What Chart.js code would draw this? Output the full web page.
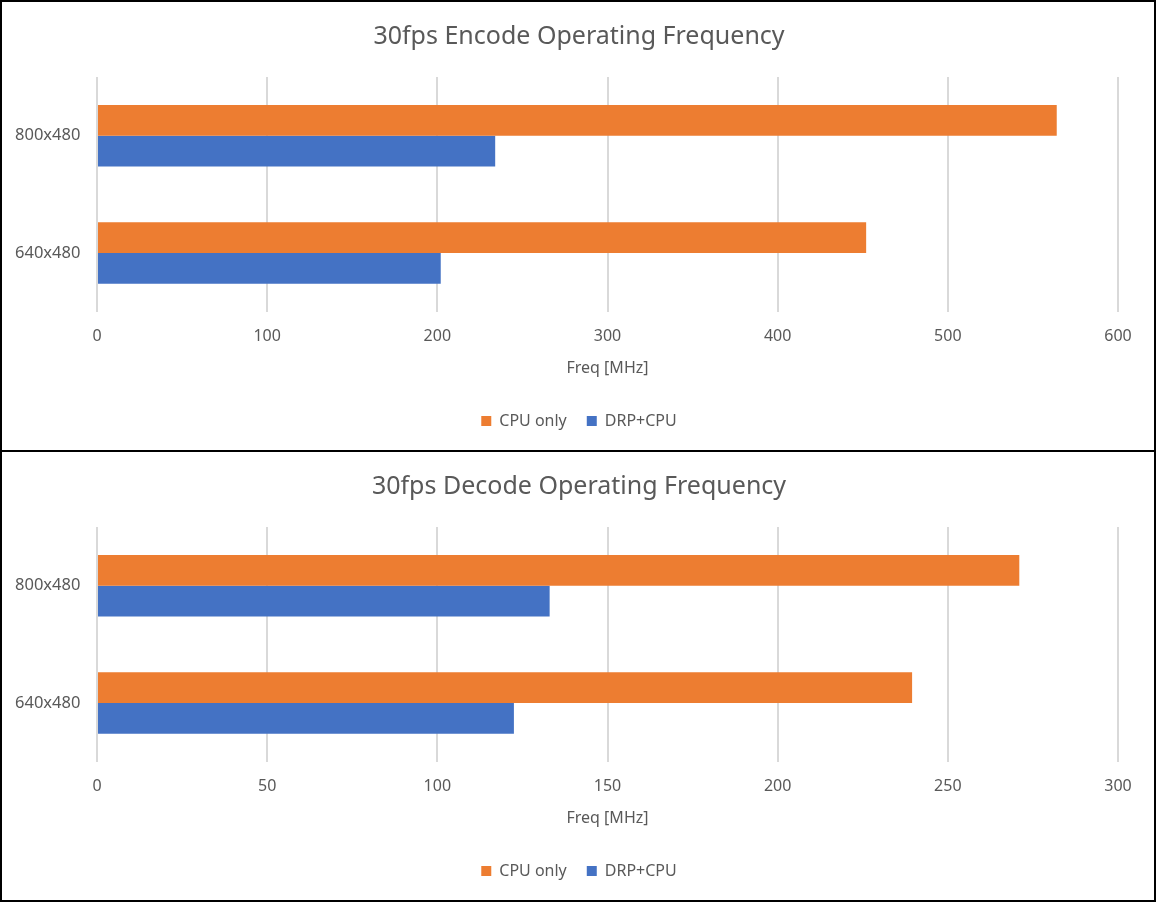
<!DOCTYPE html>
<html>
<head>
<meta charset="utf-8">
<script src="https://cdn.jsdelivr.net/npm/chart.js@4.4.1/dist/chart.umd.min.js"></script>
<style>
  body { margin: 0; background: #fff; }
  #frame { position: absolute; left: 0; top: 0; width: 1156px; height: 902px; box-sizing: border-box; border: 2px solid #000; }
  .box { position: absolute; left: 0; width: 1152px; height: 448px; }
  #box1 { top: 0; }
  #box2 { top: 448px; border-top: 2px solid #000; }
  canvas { display: block; }
</style>
</head>
<body>
<div id="frame">
  <div class="box" id="box1"><canvas id="encodeChart" width="1152" height="448"></canvas></div>
  <div class="box" id="box2"><canvas id="decodeChart" width="1152" height="448"></canvas></div>
</div>
<script>
var categories = ['800x480', '640x480'];
var seriesNames = ['CPU only', 'DRP+CPU'];

// encode, MHz
var encodeCpuOnly = [564, 452];
var encodeDrpCpu = [234, 202];
var encodeTicks = [0, 100, 200, 300, 400, 500, 600];

// decode, MHz
var decodeCpuOnly = [271, 239.5];
var decodeDrpCpu = [133, 122.5];
var decodeTicks = [0, 50, 100, 150, 200, 250, 300];

var textColor = '#595959';
var fontFamily = '"Noto Sans", "Open Sans", sans-serif';

function makeChart(id, title, cpuOnly, drpCpu, ticks) {
    var step = ticks[1] - ticks[0];

    return new Chart(document.getElementById(id), {
        type: 'bar',
        data: {
            labels: categories,
            datasets: [{
                label: seriesNames[0],
                data: cpuOnly,
                backgroundColor: '#ED7D31'
            }, {
                label: seriesNames[1],
                data: drpCpu,
                backgroundColor: '#4472C4'
            }]
        },
        options: {
            indexAxis: 'y',
            responsive: false,
            animation: false,
            devicePixelRatio: 1,
            categoryPercentage: 0.524,
            barPercentage: 1,
            // left padding keeps title and legend centred like the original
            layout: { padding: { left: 38, right: 36, top: 0, bottom: 11 } },
            plugins: {
                title: {
                    display: true,
                    text: title,
                    color: textColor,
                    font: { family: fontFamily, size: 25, weight: 'normal' },
                    padding: { top: 20, bottom: 25 }
                },
                legend: {
                    position: 'bottom',
                    labels: {
                        boxWidth: 10,
                        boxHeight: 10,
                        color: textColor,
                        font: { family: fontFamily, size: 16 },
                        padding: 20
                    }
                },
                tooltip: { enabled: false }
            },
            scales: {
                x: {
                    min: ticks[0],
                    max: ticks[ticks.length - 1],
                    ticks: {
                        stepSize: step,
                        color: textColor,
                        font: { family: fontFamily, size: 16 },
                        padding: 15
                    },
                    grid: { color: '#D9D9D9', lineWidth: 2, drawTicks: false },
                    border: { display: false },
                    title: {
                        display: true,
                        text: 'Freq [MHz]',
                        color: textColor,
                        font: { family: fontFamily, size: 16 },
                        padding: { top: -2, bottom: 15 }
                    }
                },
                y: {
                    // mirrored labels are not clipped to the narrow axis box,
                    // negative padding pulls them back out to the left
                    ticks: {
                        color: textColor,
                        font: { family: fontFamily, size: 16.5 },
                        mirror: true,
                        crossAlign: 'far',
                        padding: -82
                    },
                    grid: { display: false, drawTicks: false },
                    border: { display: false },
                    afterFit: function(scale) {
                        scale.width = 57;
                    }
                }
            }
        }
    });
}

makeChart('encodeChart', '30fps Encode Operating Frequency', encodeCpuOnly, encodeDrpCpu, encodeTicks);
makeChart('decodeChart', '30fps Decode Operating Frequency', decodeCpuOnly, decodeDrpCpu, decodeTicks);
</script>
</body>
</html>
